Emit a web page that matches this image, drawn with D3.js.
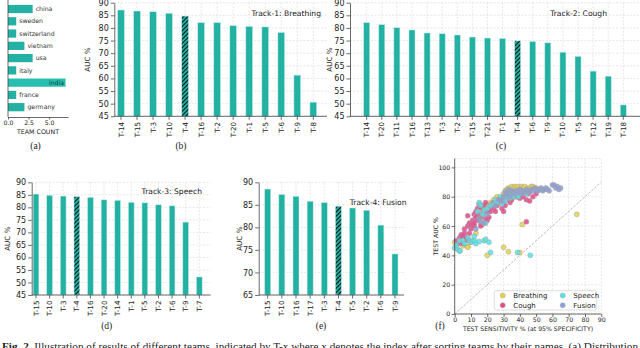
<!DOCTYPE html>
<html lang="en">
<head>
<meta charset="UTF-8" />
<script src="https://cdn.jsdelivr.net/npm/d3@7"></script>
<title>Team results</title>
<style>
body { margin: 0; background: #fff; }
text { font-family: "DejaVu Sans", sans-serif; fill: #222; }
.serif { font-family: "Liberation Serif", "DejaVu Serif", serif; }
</style>
</head>
<body>
<script type="text/javascript">
var width = 640, height = 348;
var teal = "#22b1a2";

// (a) team count per country
var countries = ["china", "sweden", "switzerland", "vietnam", "usa", "italy", "india", "france", "germany"];
var teamCount = [3, 1, 1, 2, 3, 1, 7, 1, 2];

// (b) - (e) AUC per team
var breathTeams = ["T-14", "T-15", "T-3", "T-10", "T-4", "T-16", "T-2", "T-20", "T-1", "T-5", "T-6", "T-9", "T-8"];
var breathAuc = [87.1, 86.7, 86.4, 85.8, 84.7, 82.1, 82.1, 80.9, 80.6, 80.4, 78.2, 61.3, 50.6];
var coughTeams = ["T-14", "T-20", "T-11", "T-16", "T-13", "T-3", "T-2", "T-15", "T-21", "T-1", "T-4", "T-6", "T-9", "T-10", "T-5", "T-12", "T-19", "T-18"];
var coughAuc = [82.1, 81.3, 80.1, 79.2, 78.0, 77.7, 77.2, 76.4, 76.0, 75.8, 74.9, 74.6, 74.1, 70.4, 68.7, 62.9, 60.9, 49.5];
var speechTeams = ["T-15", "T-10", "T-3", "T-4", "T-16", "T-20", "T-14", "T-1", "T-5", "T-2", "T-6", "T-9", "T-7"];
var speechAuc = [85.3, 84.8, 84.5, 84.3, 84.0, 83.0, 82.8, 82.0, 81.8, 81.0, 80.6, 74.1, 52.2];
var fusionTeams = ["T-15", "T-10", "T-16", "T-17", "T-3", "T-4", "T-5", "T-2", "T-6", "T-9"];
var fusionAuc = [88.5, 87.3, 86.9, 85.8, 85.5, 84.7, 84.3, 83.8, 80.5, 74.1];

// (f) [test sensitivity, test AUC]
var ptsBreathing = [[0,49],[1,47.5],[2,48],[5,46.5],[8,46],[8,45.5],[10,49],[13,55],[16,62],[17,61],[14,66],[16,70],[18,73],[20,74],[22,76],[24,78],
  [26,80],[28,79],[30,82],[31,84],[32,85],[33,86],[34,84],[35,87],[36,86],[37,87],[38,86],[39,87],[40,85],[41,87],[42,86],[43,87],[44,84],
  [45,86],[47,87],[48,87],[50,86],[52,85],[36,82],[38,80],[30,80],[25,75],[20,40],[30,45.5],[33,42.5],[40,42],[41.5,61],[75,68],[17,74],[27,77]];
var ptsCough = [[1,50],[2,48],[3,52],[4,54],[5,53],[6,55],[6,58],[7,50],[8,60],[8,67],[9,55],[9,62],[10,58],[10,61],[11,60],[11,64],[12,68],
  [12,60],[13,66],[13,70],[14,72],[14,64],[15,68],[15,75],[16,60],[16,66],[17,68],[17,72],[18,70],[18,74],[19,65],[19,76],[20,64],[20,70],
  [21,66],[21,72],[22,70],[22,74],[23,75],[24,72],[24,76],[25,70],[26,74],[27,76],[28,78],[29,72],[30,70],[30,76],[31,74],[32,78],[33,80],
  [34,76],[35,78],[36,80],[38,80],[40,79],[42,80],[44,78],[45,82],[46,77],[48,80],[50,82],[44,63],[3,49],[5,48],[7,52],[16,73],[12,62]];
var ptsSpeech = [[0,45],[1,47],[2,44],[3,43],[3,50],[5,50],[6,48],[8,52],[9,50],[10,49],[11,50],[12,53],[13,48],[15,49.5],[14,70],[15,76],
  [16,74],[17,68],[18,50],[18,71],[20,72],[21,49],[22,42],[22,74],[24,75],[25,78],[26,76],[28,80],[29,75],[30,78],[31,77],[32,80],[33,81],
  [34,79],[35,82],[36,80],[37,83],[38,82],[39,80],[40,84],[42,83],[44,82],[38.6,42],[46.4,40],[3.3,43],[12,50],[19,62],[19,51]];
var ptsFusion = [[13,58],[15,65],[16,63],[18,62],[20,68],[25,74],[27,78],[29,77],[30,80],[31,83],[32,82],[33,85],[34,80],[35,84],[36,83],
  [37,82],[38,84],[39,83],[40,85],[41,82],[42,84],[43,83],[44,85],[45,84],[46,83],[47,85],[48,84],[49,86],[50,85],[51,84],[52,85],[53,86],
  [54,84],[55,85],[56,86],[57,85],[60,88],[61,88],[63,87],[64,85],[65,86],[58,84],[62,86]];

var svg = d3.select("body").append("svg").attr("width", width).attr("height", height);

var pat = svg.append("defs").append("pattern").attr("id", "hatch")
  .attr("patternUnits", "userSpaceOnUse").attr("width", 3).attr("height", 3)
  .attr("patternTransform", "rotate(45)");
pat.append("rect").attr("width", 3).attr("height", 3).attr("fill", teal);
pat.append("line").attr("x1", 0.5).attr("y1", 0).attr("x2", 0.5).attr("y2", 3)
  .attr("stroke", "#111").attr("stroke-width", 1.1);

function styleAxis(g, fs) {
  g.selectAll("path.domain").attr("stroke", "#444").attr("stroke-width", 0.8);
  g.selectAll(".tick line").attr("stroke", "#444").attr("stroke-width", 0.8);
  g.selectAll(".tick text").attr("fill", "#222").style("font-family", "DejaVu Sans").style("font-size", fs + "px");
}

function panelLabel(txt, x, y) {
  svg.append("text").attr("class", "serif").attr("x", x).attr("y", y)
    .attr("text-anchor", "middle").attr("font-size", 9.5).text(txt);
}

// ---------- (a)
(function() {
  var x0 = 8, yTop = 0, yBot = 117;
  var x = d3.scaleLinear().domain([0, 7.3]).range([x0, 68]);
  var y = d3.scaleBand().domain(countries).range([9 - 6.125, 107.2 + 6.125]).paddingInner(0.33).paddingOuter(0.165);
  var g = svg.append("g");
  g.selectAll("rect").data(countries).enter().append("rect")
    .attr("x", x(0)).attr("y", function(d) { return y(d); })
    .attr("width", function(d, i) { return x(teamCount[i]) - x(0); })
    .attr("height", y.bandwidth())
    .attr("fill", function(d) { return d == "india" ? "#27bfb0" : teal; });
  g.selectAll("text.lab").data(countries).enter().append("text")
    .attr("x", function(d, i) { return d == "india" ? x(teamCount[i]) - 1.5 : x(teamCount[i]) + 3; })
    .attr("y", function(d) { return y(d) + y.bandwidth() / 2; })
    .attr("dy", "0.35em")
    .attr("text-anchor", function(d) { return d == "india" ? "end" : "start"; })
    .attr("font-size", 6.2)
    .style("fill", function(d) { return d == "india" ? "#0c3c38" : "#333"; })
    .text(function(d) { return d; });
  var ax = svg.append("g").attr("transform", "translate(0," + yBot + ")")
    .call(d3.axisBottom(x).tickValues([0, 2.5, 5]).tickFormat(d3.format(".1f")).tickSize(2.5).tickSizeOuter(0).tickPadding(1.5));
  styleAxis(ax, 6.2);
  svg.append("line").attr("x1", x0).attr("x2", x0).attr("y1", yTop).attr("y2", yBot)
    .attr("stroke", "#444").attr("stroke-width", 0.8);
  svg.append("text").attr("x", 38).attr("y", 134).attr("text-anchor", "middle").attr("font-size", 6.3).text("TEAM COUNT");
  panelLabel("(a)", 35.5, 149);
})();

// ---------- bar panels (b)-(e)
function barPanel(o) {
  var n = o.teams.length;
  var step = (o.c1 - o.c0) / (n - 1);
  var pin = 1 - o.barW / step;
  var x = d3.scaleBand().domain(o.teams).range([o.c0 - step / 2, o.c1 + step / 2])
    .paddingInner(pin).paddingOuter(pin / 2);
  var y = d3.scaleLinear().domain([o.yMin, o.yMax]).range([o.yBot, o.yTop]);
  var ticks = d3.range(o.yMin, o.yMax + 0.01, o.tickStep);
  var g = svg.append("g");

  g.selectAll("line.hg").data(ticks).enter().append("line")
    .attr("x1", o.x0).attr("x2", o.x1)
    .attr("y1", function(d) { return y(d); }).attr("y2", function(d) { return y(d); })
    .attr("stroke", "#dcdcdc").attr("stroke-width", 0.7).attr("stroke-dasharray", "2,1.5");
  g.selectAll("line.vg").data(o.teams).enter().append("line")
    .attr("x1", function(d) { return x(d) + x.bandwidth() / 2; })
    .attr("x2", function(d) { return x(d) + x.bandwidth() / 2; })
    .attr("y1", o.yTop).attr("y2", o.yBot)
    .attr("stroke", "#dcdcdc").attr("stroke-width", 0.7).attr("stroke-dasharray", "2,1.5");

  g.selectAll("rect").data(o.teams).enter().append("rect")
    .attr("x", function(d) { return x(d); })
    .attr("y", function(d, i) { return y(o.auc[i]); })
    .attr("width", x.bandwidth())
    .attr("height", function(d, i) { return o.yBot - y(o.auc[i]); })
    .attr("fill", function(d) { return d == "T-4" ? "url(#hatch)" : teal; })
    .attr("stroke", "#bfece6").attr("stroke-width", 0.5);

  var ay = svg.append("g").attr("transform", "translate(" + o.x0 + ",0)")
    .call(d3.axisLeft(y).tickValues(ticks).tickSize(3.5).tickSizeOuter(0).tickPadding(2));
  styleAxis(ay, 8);
  var ax = svg.append("g").attr("transform", "translate(0," + o.yBot + ")")
    .call(d3.axisBottom(x).tickSize(3.5).tickSizeOuter(0).tickPadding(2));
  ax.select("path.domain").remove();
  styleAxis(ax, 7.2);
  ax.selectAll(".tick text").attr("transform", "rotate(-90)").attr("text-anchor", "end")
    .attr("x", -5.5).attr("y", 0).attr("dy", "0.35em");
  svg.append("line").attr("x1", o.x0).attr("x2", o.x1).attr("y1", o.yBot).attr("y2", o.yBot)
    .attr("stroke", "#444").attr("stroke-width", 0.8);

  svg.append("text").attr("transform", "translate(" + o.ylabX + "," + (o.yTop + o.yBot) / 2 + ") rotate(-90)")
    .attr("text-anchor", "middle").attr("dy", "0.35em").attr("font-size", 7.2).text("AUC %");
  svg.append("text").attr("x", o.titleX).attr("y", o.titleY).attr("dy", "0.35em")
    .attr("text-anchor", "end").attr("font-size", 7.6).text(o.title);
  panelLabel(o.label, o.labX, o.labY);
}

barPanel({ teams: breathTeams, auc: breathAuc, x0: 114.3, x1: 327, c0: 121, c1: 313.3, barW: 6.7,
  yTop: 2.7, yBot: 116.3, yMin: 45, yMax: 90, tickStep: 5, ylabX: 87.7,
  title: "Track-1: Breathing", titleX: 321, titleY: 13.3, label: "(b)", labX: 181, labY: 149 });
barPanel({ teams: coughTeams, auc: coughAuc, x0: 350, x1: 640, c0: 366.7, c1: 623.3, barW: 6,
  yTop: 2.7, yBot: 116.3, yMin: 45, yMax: 90, tickStep: 5, ylabX: 329.5,
  title: "Track-2: Cough", titleX: 607, titleY: 13.3, label: "(c)", labX: 501, labY: 149 });
barPanel({ teams: speechTeams, auc: speechAuc, x0: 31.7, x1: 210.7, c0: 36, c1: 199.3, barW: 5.7,
  yTop: 182.3, yBot: 295, yMin: 45, yMax: 90, tickStep: 5, ylabX: 7.5,
  title: "Track-3: Speech", titleX: 202, titleY: 191.7, label: "(d)", labX: 106.7, labY: 329 });
barPanel({ teams: fusionTeams, auc: fusionAuc, x0: 258.7, x1: 404, c0: 267.7, c1: 395, barW: 6,
  yTop: 182.3, yBot: 295, yMin: 65, yMax: 90, tickStep: 5, ylabX: 239.5,
  title: "Track-4: Fusion", titleX: 406.5, titleY: 202, label: "(e)", labX: 321, labY: 329 });

// ---------- (f) scatter
(function() {
  var x0 = 454.7, x1 = 601.3, yTop = 158.6, yBot = 314;
  var x = d3.scaleLinear().domain([0, 90]).range([x0, x1]);
  var y = d3.scaleLinear().domain([0, 106]).range([yBot, yTop]);
  var xt = d3.range(0, 91, 10), yt = d3.range(0, 101, 20);
  var g = svg.append("g");
  g.selectAll("line.hg").data(yt).enter().append("line")
    .attr("x1", x0).attr("x2", x1).attr("y1", function(d) { return y(d); }).attr("y2", function(d) { return y(d); })
    .attr("stroke", "#dcdcdc").attr("stroke-width", 0.7).attr("stroke-dasharray", "2,1.5");
  g.selectAll("line.vg").data(xt).enter().append("line")
    .attr("x1", function(d) { return x(d); }).attr("x2", function(d) { return x(d); }).attr("y1", yTop).attr("y2", yBot)
    .attr("stroke", "#dcdcdc").attr("stroke-width", 0.7).attr("stroke-dasharray", "2,1.5");
  g.append("line").attr("x1", x0).attr("x2", x1).attr("y1", yTop).attr("y2", yTop)
    .attr("stroke", "#dcdcdc").attr("stroke-width", 0.7).attr("stroke-dasharray", "2,1.5");
  g.append("line").attr("x1", x(0)).attr("y1", y(0)).attr("x2", x(90)).attr("y2", y(90))
    .attr("stroke", "#a8a8a8").attr("stroke-width", 0.8).attr("stroke-dasharray", "2.5,1.5");

  var series = [
    { name: "Breathing", pts: ptsBreathing, color: "#e9d246" },
    { name: "Cough", pts: ptsCough, color: "#e8458c" },
    { name: "Speech", pts: ptsSpeech, color: "#55e5e8" },
    { name: "Fusion", pts: ptsFusion, color: "#8e9fd6" }
  ];
  series.forEach(function(s) {
    g.selectAll(null).data(s.pts).enter().append("circle")
      .attr("cx", function(d) { return x(d[0]); }).attr("cy", function(d) { return y(d[1]); })
      .attr("r", 2.5).attr("fill", s.color).attr("fill-opacity", 0.85)
      .attr("stroke", "#a0a0a0").attr("stroke-width", 0.5);
  });

  var ay = svg.append("g").attr("transform", "translate(" + x0 + ",0)")
    .call(d3.axisLeft(y).tickValues(yt).tickSize(3).tickSizeOuter(0).tickPadding(1.5));
  ay.select("path.domain").remove();
  styleAxis(ay, 6.2);
  var ax = svg.append("g").attr("transform", "translate(0," + yBot + ")")
    .call(d3.axisBottom(x).tickValues(xt).tickSize(3).tickSizeOuter(0).tickPadding(1));
  ax.select("path.domain").remove();
  styleAxis(ax, 6.2);
  svg.append("line").attr("x1", x0).attr("x2", x0).attr("y1", yTop).attr("y2", yBot).attr("stroke", "#444").attr("stroke-width", 0.8);
  svg.append("line").attr("x1", x0).attr("x2", x1).attr("y1", yBot).attr("y2", yBot).attr("stroke", "#444").attr("stroke-width", 0.8);

  svg.append("text").attr("transform", "translate(436," + (yTop + yBot) / 2 + ") rotate(-90)")
    .attr("text-anchor", "middle").attr("dy", "0.35em").attr("font-size", 6.2).text("TEST AUC %");
  svg.append("text").attr("x", 528).attr("y", 330.5).attr("text-anchor", "middle").attr("font-size", 6.2)
    .text("TEST SENSITIVITY % (at 95% SPECIFICITY)");

  var lg = svg.append("g");
  lg.append("rect").attr("x", 494.3).attr("y", 290.7).attr("width", 102.4).attr("height", 19.3).attr("rx", 2)
    .attr("fill", "#fff").attr("fill-opacity", 0.85).attr("stroke", "#d0d0d0").attr("stroke-width", 0.7);
  var pos = [[502.7, 295.5], [502.7, 305.3], [562.7, 295.5], [562.7, 305.3]];
  series.forEach(function(s, i) {
    lg.append("circle").attr("cx", pos[i][0]).attr("cy", pos[i][1]).attr("r", 2.5)
      .attr("fill", s.color).attr("stroke", "#a0a0a0").attr("stroke-width", 0.5);
    lg.append("text").attr("x", pos[i][0] + 10.6).attr("y", pos[i][1]).attr("dy", "0.35em")
      .attr("font-size", 7).text(s.name);
  });
  panelLabel("(f)", 440, 329);
})();

// caption, cut by the bottom edge as in the source figure
var cap = svg.append("text").attr("class", "serif").attr("x", 2).attr("y", 349.5).attr("font-size", 9.5)
  .attr("textLength", 636).attr("lengthAdjust", "spacingAndGlyphs");
cap.append("tspan").attr("font-weight", "bold").text("Fig. 2.");
cap.append("tspan").text(" Illustration of results of different teams, indicated by T-x where x denotes the index after sorting teams by their names. (a) Distribution");
</script>
</body>
</html>
